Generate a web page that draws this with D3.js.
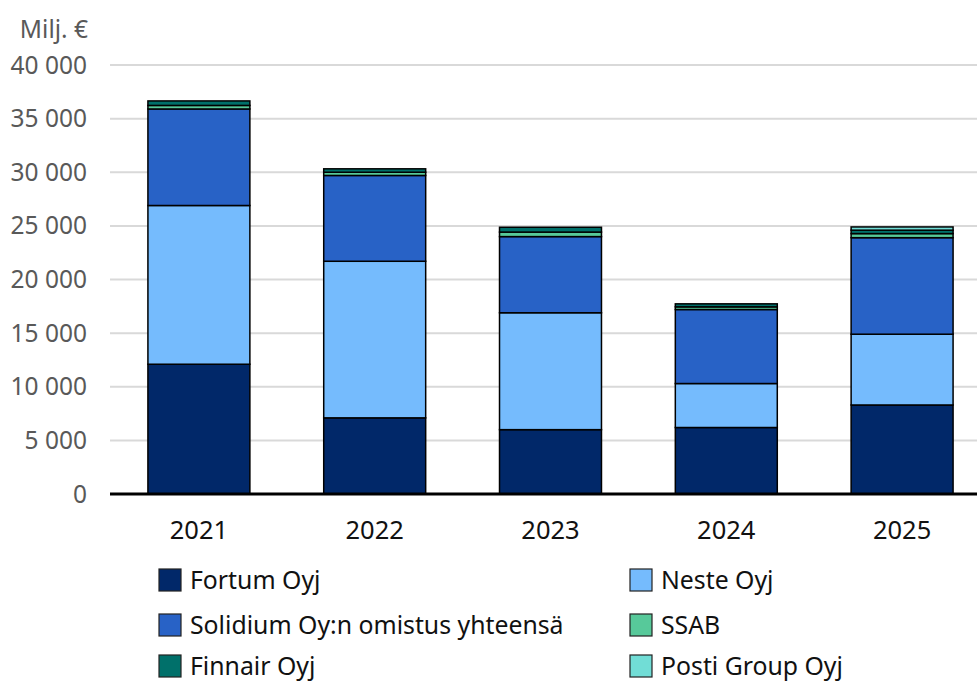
<!DOCTYPE html>
<html><head><meta charset="utf-8">
<script src="https://cdn.jsdelivr.net/npm/d3@7"></script>
<style>body{margin:0;background:#fff}svg{display:block}text{font-family:"Noto Sans",sans-serif}</style>
</head><body>
<svg id="c" width="977" height="681"></svg>
<script>
const years = ["2021","2022","2023","2024","2025"];
const seriesNames = ["Fortum Oyj","Neste Oyj","Solidium Oy:n omistus yhteensä","SSAB","Finnair Oyj","Posti Group Oyj"];
const fortum   = [12100, 7100, 6000, 6200, 8300];
const neste    = [14800, 14600, 10900, 4100, 6600];
const solidium = [9000, 8000, 7100, 6900, 9000];
const ssab     = [330, 300, 420, 250, 380];
const finnair  = [420, 320, 450, 280, 320];
const posti    = [0, 0, 0, 0, 300];
const colors = ["#012869","#75BBFD","#2862C6","#57C99A","#00706A","#71DDD6"];
const yTicks = [0,5000,10000,15000,20000,25000,30000,35000,40000];

const svg = d3.select("#c");
const x = d3.scaleBand().domain(years).range([111, 990]).paddingInner(0.42).paddingOuter(0.21);
const y = d3.scaleLinear().domain([0, 40000]).range([494, 65]);

const rows = years.map((yr,i)=>({year:yr, s0:fortum[i], s1:neste[i], s2:solidium[i], s3:ssab[i], s4:finnair[i], s5:posti[i]}));
const keys = ["s0","s1","s2","s3","s4","s5"];
const stacked = d3.stack().keys(keys)(rows);

const fmt = v => d3.format(",")(v).replace(/,/g, "\u00a0");

// gridlines
svg.append("g").selectAll("line").data(yTicks.filter(d=>d>0)).join("line")
  .attr("x1",110).attr("x2",977).attr("y1",d=>y(d)).attr("y2",d=>y(d))
  .attr("stroke","#d9d9d9").attr("stroke-width",2);

// y labels
svg.append("g").selectAll("text").data(yTicks).join("text")
  .attr("x",87).attr("y",d=>y(d)).attr("dy","0.35em").attr("text-anchor","end")
  .attr("font-size",24.5).attr("fill","#595959").text(fmt);
svg.append("text").attr("x",88).attr("y",29).attr("dy","0.35em").attr("text-anchor","end")
  .attr("font-size",24.5).attr("fill","#595959").text("Milj. €");

// bars
svg.append("g").selectAll("g").data(stacked).join("g")
  .attr("fill",(d,i)=>colors[i])
  .selectAll("rect").data(d=>d.filter(p=>p[1]-p[0]>0)).join("rect")
  .attr("x",d=>x(d.data.year)).attr("width",x.bandwidth())
  .attr("y",d=>y(d[1])).attr("height",d=>y(d[0])-y(d[1]))
  .attr("stroke","#000").attr("stroke-width",1.5);

// x axis line
svg.append("line").attr("x1",110).attr("x2",977).attr("y1",y(0)).attr("y2",y(0))
  .attr("stroke","#000").attr("stroke-width",3);

// x labels
svg.append("g").selectAll("text").data(years).join("text")
  .attr("x",d=>x(d)+x.bandwidth()/2).attr("y",530).attr("dy","0.35em").attr("text-anchor","middle")
  .attr("font-size",25.5).attr("fill","#111").text(d=>d);

// legend
const legX = [159, 630], legY = [580, 625, 666];
const leg = svg.append("g").selectAll("g").data(seriesNames).join("g")
  .attr("transform",(d,i)=>`translate(${legX[i%2]},${legY[Math.floor(i/2)]})`);
leg.append("rect").attr("x",0).attr("y",-11).attr("width",22).attr("height",22)
  .attr("fill",(d,i)=>colors[i]).attr("stroke","#222").attr("stroke-width",1.2);
leg.append("text").attr("x",31).attr("y",0).attr("dy","0.35em").attr("font-size",24.8)
  .attr("fill","#111").text(d=>d);
</script>
</body></html>
